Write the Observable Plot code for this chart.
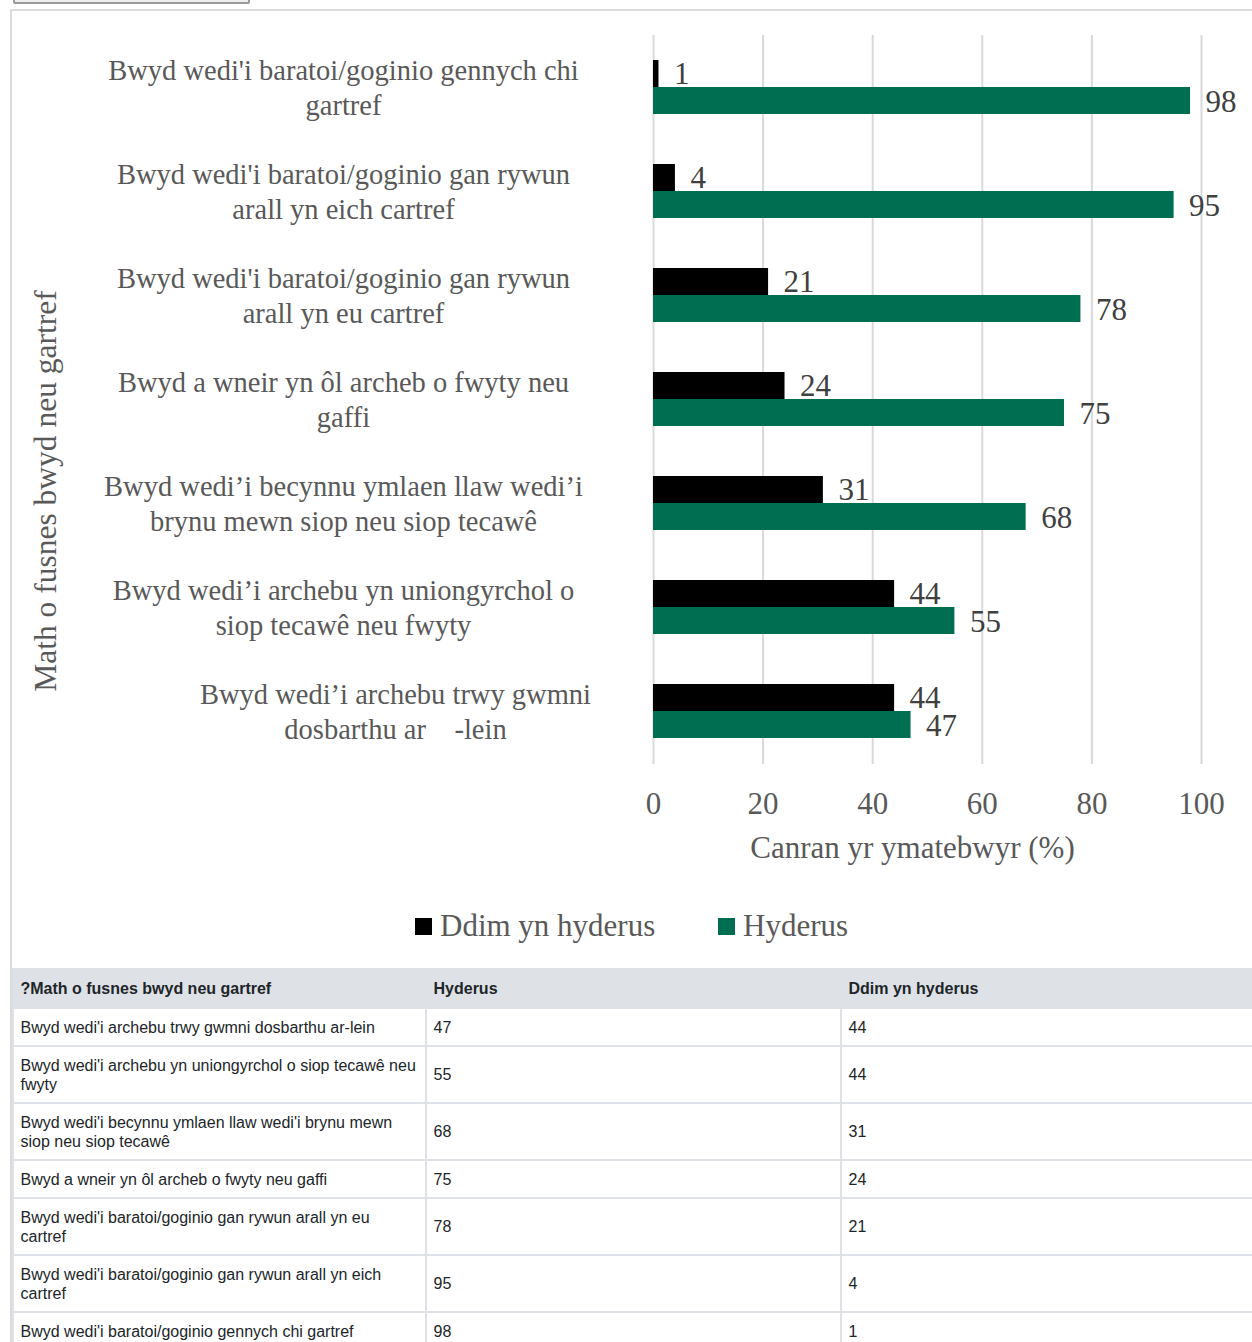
<!DOCTYPE html>
<html>
<head>
<meta charset="utf-8">
<script src="https://cdn.jsdelivr.net/npm/d3@7"></script>
<script src="https://cdn.jsdelivr.net/npm/@observablehq/plot@0.6"></script>
<style>
  body { margin: 0; background: #fff; }
  #btn { position: absolute; left: 13px; top: -26px; width: 233px; height: 26px; border: 2px solid #9a9a9a; border-radius: 2px; background: #efefef; box-sizing: content-box; }
  #box { position: absolute; left: 10px; top: 9px; width: 1262px; height: 1400px; border-left: 2px solid #dcdcdc; border-top: 2px solid #dcdcdc; }
  #chart { position: absolute; left: 0; top: 0; }
  #legend { position: absolute; left: 0; top: 895px; width: 1240px; height: 40px; font-family: 'Liberation Serif', 'Times New Roman', serif; font-size: 31px; color: #595959; }
  .lg { position: absolute; top: 0; height: 40px; display: flex; align-items: center; white-space: nowrap; }
  .sw { width: 17px; height: 17px; display: inline-block; margin-right: 8px; }
  table { position: absolute; left: 0; top: 957px; width: 1250px; border-collapse: collapse; font-family: 'Liberation Sans', Arial, sans-serif; font-size: 16px; color: #212529; table-layout: fixed; }
  th, td { border: 2px solid #dee2e6; padding: 8.5px 6.5px; line-height: 19px; text-align: left; vertical-align: middle; }
  th { background: #dee2e6; font-weight: bold; padding: 9px 6.5px; }
</style>
</head>
<body>
<div id="btn"></div>
<div id="box">
  <div id="chart"></div>
  <div id="legend"></div>
  <table id="tbl"></table>
</div>
<script>
// Categories (top to bottom in the chart)
const categories = [
  "Bwyd wedi'i baratoi/goginio gennych chi gartref",
  "Bwyd wedi'i baratoi/goginio gan rywun arall yn eich cartref",
  "Bwyd wedi'i baratoi/goginio gan rywun arall yn eu cartref",
  "Bwyd a wneir yn ôl archeb o fwyty neu gaffi",
  "Bwyd wedi'i becynnu ymlaen llaw wedi'i brynu mewn siop neu siop tecawê",
  "Bwyd wedi'i archebu yn uniongyrchol o siop tecawê neu fwyty",
  "Bwyd wedi'i archebu trwy gwmni dosbarthu ar-lein"
];
// Wrapped labels as shown on the chart
const chartLabels = [
  "Bwyd wedi'i baratoi/goginio gennych chi\ngartref",
  "Bwyd wedi'i baratoi/goginio gan rywun\narall yn eich cartref",
  "Bwyd wedi'i baratoi/goginio gan rywun\narall yn eu cartref",
  "Bwyd a wneir yn ôl archeb o fwyty neu\ngaffi",
  "Bwyd wedi’i becynnu ymlaen llaw wedi’i\nbrynu mewn siop neu siop tecawê",
  "Bwyd wedi’i archebu yn uniongyrchol o\nsiop tecawê neu fwyty",
  "Bwyd wedi’i archebu trwy gwmni\ndosbarthu ar\u00a0\u00a0\u00a0\u00a0-lein"
];
const seriesNames = ["Ddim yn hyderus", "Hyderus"];
const ddimValues = [1, 4, 21, 24, 31, 44, 44];
const hyderusValues = [98, 95, 78, 75, 68, 55, 47];
const xTicks = [0, 20, 40, 60, 80, 100];
const seriesColors = ["#000000", "#006f51"];
const yTitle = "Math o fusnes bwyd neu gartref";
const xTitle = "Canran yr ymatebwyr (%)";
const tableHeader = ["?Math o fusnes bwyd neu gartref", "Hyderus", "Ddim yn hyderus"];

const rows = categories.map((c, i) => ({cat: c, label: chartLabels[i], ddim: ddimValues[i], hyd: hyderusValues[i], idx: i}));

const serif = "'Liberation Serif','Times New Roman',serif";
const labelStyle = {y: "cat", text: "label", frameAnchor: "left", textAnchor: "middle", lineAnchor: "middle", lineHeight: 1.23, dy: -1, fontSize: 28.5, fill: "#595959"};
const chart = Plot.plot({
  width: 1240,
  height: 893,
  marginLeft: 641,
  marginRight: 51,
  marginTop: 24,
  marginBottom: 140,
  style: {fontFamily: serif, fontSize: "31px", background: "transparent", color: "#595959"},
  x: {domain: [0, 100], ticks: xTicks, label: null},
  y: {domain: categories, paddingInner: 0.48, paddingOuter: 0.24, axis: null, label: null},
  marks: [
    Plot.gridX(xTicks, {stroke: "#d9d9d9", strokeOpacity: 1, strokeWidth: 2}),
    Plot.axisX(xTicks, {tickSize: 0, tickPadding: 27, fontSize: 31, fill: "#595959", label: null}),
    Plot.barX(rows, {x: "ddim", y: "cat", fill: seriesColors[0], insetBottom: 27}),
    Plot.barX(rows, {x: "hyd", y: "cat", fill: seriesColors[1], insetTop: 27}),
    Plot.text(rows, {x: "ddim", y: "cat", text: d => String(d.ddim), dy: -13.5, dx: 15, textAnchor: "start", fontSize: 31, fill: "#404040"}),
    Plot.text(rows, {x: "hyd", y: "cat", text: d => String(d.hyd), dy: 14.5, dx: 15, textAnchor: "start", fontSize: 31, fill: "#404040"}),
    Plot.text(rows, {...labelStyle, filter: d => d.idx < 6, dx: -310}),
    Plot.text(rows, {...labelStyle, filter: d => d.idx === 6, dx: -258}),
    Plot.text([yTitle], {frameAnchor: "left", textAnchor: "middle", lineAnchor: "middle", rotate: -90, dx: -608, dy: 91, fontSize: 31.5, fill: "#595959"}),
    Plot.text([xTitle], {frameAnchor: "bottom", textAnchor: "middle", lineAnchor: "middle", dx: -15, dy: 84, fontSize: 31, fill: "#595959"})
  ]
});
document.getElementById("chart").appendChild(chart);

// Legend
const legend = document.getElementById("legend");
const legendLeft = [403, 706];
seriesNames.forEach((name, i) => {
  const item = document.createElement("div");
  item.className = "lg";
  item.style.left = legendLeft[i] + "px";
  const sw = document.createElement("span");
  sw.className = "sw";
  sw.style.background = seriesColors[i];
  const tx = document.createElement("span");
  tx.textContent = name;
  item.appendChild(sw);
  item.appendChild(tx);
  legend.appendChild(item);
});

// Table (reverse order of chart)
const tbl = document.getElementById("tbl");
const colgroup = document.createElement("colgroup");
[413, 415, 422].forEach(w => { const c = document.createElement("col"); c.style.width = w + "px"; colgroup.appendChild(c); });
tbl.appendChild(colgroup);
const thead = document.createElement("thead");
const hr = document.createElement("tr");
tableHeader.forEach(h => { const th = document.createElement("th"); th.textContent = h; hr.appendChild(th); });
thead.appendChild(hr);
tbl.appendChild(thead);
const tbody = document.createElement("tbody");
rows.slice().reverse().forEach(r => {
  const tr = document.createElement("tr");
  [r.cat, r.hyd, r.ddim].forEach(v => { const td = document.createElement("td"); td.textContent = v; tr.appendChild(td); });
  tbody.appendChild(tr);
});
tbl.appendChild(tbody);
</script>
</body>
</html>
